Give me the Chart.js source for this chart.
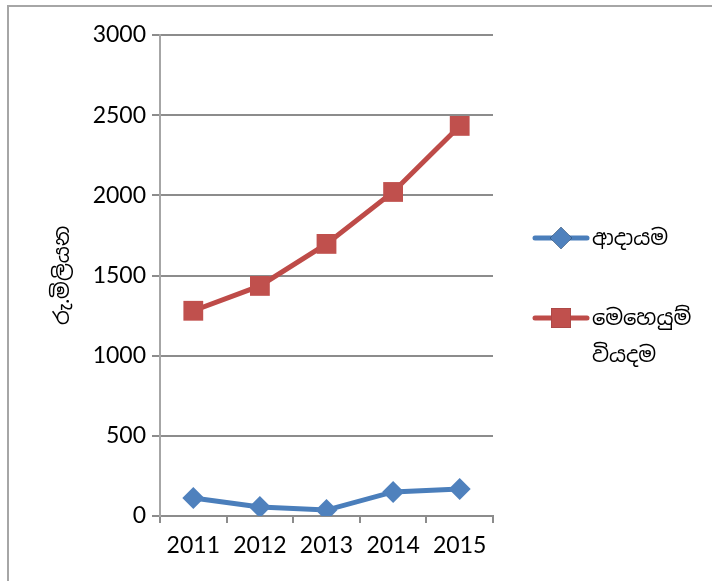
<!DOCTYPE html>
<html>
<head>
<meta charset="utf-8">
<script src="https://cdn.jsdelivr.net/npm/chart.js@4/dist/chart.umd.min.js"></script>
<style>
  html, body { margin: 0; padding: 0; background: #fff; }
  #wrap { position: relative; width: 712px; height: 581px; overflow: hidden; }
  #frame { position: absolute; left: 7px; top: 5px; width: 800px; height: 700px;
           border-top: 2px solid #a6a6a6; border-left: 2px solid #a6a6a6; }
  canvas { position: absolute; left: 0; top: 0; }
</style>
</head>
<body>
<div id="wrap">
  <div id="frame"></div>
  <canvas id="chart_canvas_id" width="712" height="581"></canvas>
</div>
<script>
// data
var years = ['2011', '2012', '2013', '2014', '2015'];
var income = [112, 56, 37, 150, 168];
var operatingCost = [1280, 1435, 1697, 2021, 2433];
var seriesNames = [['ආදායම'], ['මෙහෙයුම්', 'වියදම']];
var yTicks = [0, 500, 1000, 1500, 2000, 2500, 3000];
var yTitle = 'රු.මිලියන';

var fontFamily = "Lato, 'Noto Sans', 'Noto Sans Sinhala', sans-serif";
var gridColor = '#8c8c8c';

// legend on the right, drawn from dataset styles (labels need two lines)
var sideLegend = {
    id: 'sideLegend',
    afterDraw: function(chart) {
        var ctx = chart.ctx;
        var rows = [238, 318];
        ctx.save();
        chart.data.datasets.forEach(function(ds, i) {
            var y = rows[i];
            ctx.strokeStyle = ds.borderColor;
            ctx.lineWidth = ds.borderWidth;
            ctx.lineCap = 'round';
            ctx.beginPath();
            ctx.moveTo(535, y);
            ctx.lineTo(587, y);
            ctx.stroke();
            Chart.helpers.drawPoint(ctx, {
                pointStyle: ds.pointStyle,
                radius: ds.pointRadius,
                borderWidth: 0
            }, 561, y);
            ctx.fillStyle = ds.pointBackgroundColor;
            ctx.fill();
            ctx.fillStyle = '#000';
            ctx.font = '21px ' + fontFamily;
            ctx.textBaseline = 'middle';
            ctx.textAlign = 'left';
            ds.legendLines.forEach(function(t, k) {
                ctx.fillText(t, 592, y + k * 37);
            });
        });
        ctx.restore();
    }
};

var ctx = document.getElementById('chart_canvas_id').getContext('2d');
new Chart(ctx, {
    type: 'line',
    data: {
        labels: years,
        datasets: [
            {
                label: seriesNames[0].join(' '),
                legendLines: seriesNames[0],
                data: income,
                borderColor: '#4a7ebb',
                borderWidth: 5,
                pointStyle: 'rectRot',
                pointRadius: 11,
                pointBackgroundColor: '#4f81bd',
                pointBorderWidth: 0,
                tension: 0
            },
            {
                label: seriesNames[1].join(' '),
                legendLines: seriesNames[1],
                data: operatingCost,
                borderColor: '#be4b48',
                borderWidth: 5,
                pointStyle: 'rect',
                pointRadius: 14,
                pointBackgroundColor: '#c0504d',
                pointBorderWidth: 0,
                tension: 0
            }
        ]
    },
    options: {
        responsive: false,
        animation: false,
        layout: { padding: { left: 0, top: 35, right: 219, bottom: 0 } },
        plugins: { legend: { display: false }, tooltip: { enabled: false } },
        scales: {
            x: {
                offset: true,
                grid: { offset: true, drawOnChartArea: false, drawTicks: true, tickLength: 7, color: gridColor, lineWidth: 2 },
                border: { color: gridColor, width: 2 },
                ticks: { color: '#000', font: { family: fontFamily, size: 23 }, padding: 9, maxRotation: 0 },
                afterFit: function(scale) { scale.height = 65; }
            },
            y: {
                min: 0,
                max: 3000,
                afterBuildTicks: function(scale) {
                    scale.ticks = yTicks.map(function(v) { return { value: v }; });
                },
                grid: { color: gridColor, lineWidth: 2, tickLength: 8 },
                border: { color: '#a6a6a6', width: 2 },
                ticks: {
                    color: '#000', font: { family: fontFamily, size: 23 }, padding: 6,
                    callback: function(v) { return String(v); }
                },
                title: { display: true, text: yTitle, color: '#000', font: { family: fontFamily, size: 21 }, padding: { top: 50, bottom: 0 } },
                afterFit: function(scale) { scale.width = 160; }
            }
        }
    },
    plugins: [sideLegend]
});
</script>
</body>
</html>
